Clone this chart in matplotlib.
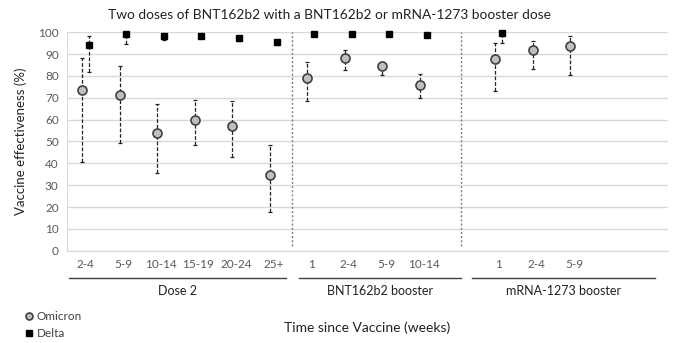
import matplotlib.pyplot as plt
import matplotlib.transforms as mtransforms
from matplotlib.lines import Line2D
import numpy as np

plt.rcParams['font.family'] = ['Lato', 'DejaVu Sans']

title = "Two doses of BNT162b2 with a BNT162b2 or mRNA-1273 booster dose"
group_names = ["Dose 2", "BNT162b2 booster", "mRNA-1273 booster"]
group_cats = [["2-4", "5-9", "10-14", "15-19", "20-24", "25+"],
              ["1", "2-4", "5-9", "10-14"],
              ["1", "2-4", "5-9"]]
group_gap = [0, 0, 1]   # empty slots before each group

omicron = [73.6, 71.3, 53.9, 59.8, 57.1, 34.5, 79.1, 88.1, 84.4, 75.9, 87.9, 92.0, 93.7]
omicron_lo = [40.5, 49.3, 35.4, 48.4, 42.8, 17.9, 68.4, 82.7, 80.6, 69.9, 73.3, 83.1, 80.3]
omicron_hi = [88.4, 84.4, 67.3, 69.0, 68.4, 48.3, 86.6, 92.0, 86.1, 80.9, 95.0, 96.2, 98.3]

delta = [94.2, 99.2, 98.4, 98.5, 97.2, 95.4, 99.2, 99.4, 99.0, 98.8, 99.5, np.nan, np.nan]
delta_lo = [81.6, 94.6, 96.5, 97.6, 95.9, 94.2, 98.9, 99.2, 98.7, 98.4, 95.0, np.nan, np.nan]
delta_hi = [98.3, 99.5, 99.1, 99.1, 98.2, 96.2, 99.4, 99.5, 99.2, 99.1, 99.8, np.nan, np.nan]

# slot positions for each category
xpos, labels, spans = [], [], []
slot = 0
for gap, cats in zip(group_gap, group_cats):
    slot += gap
    first = slot
    for c in cats:
        xpos.append(slot)
        labels.append(c)
        slot += 1
    spans.append((first, slot - 1))
xpos = np.array(xpos, dtype=float)

fig = plt.figure(figsize=(6.8, 3.43), dpi=100)
ax = fig.add_axes([0.0985, 0.269, 0.8835, 0.637])

ax.set_ylim(0, 100)
ax.set_xlim(-0.5, 15.5)
ax.set_yticks(range(0, 101, 10))
ax.yaxis.grid(True, color='#d9d9d9', lw=1)
ax.set_axisbelow(True)
for s in ['top', 'right']:
    ax.spines[s].set_visible(False)
ax.spines['bottom'].set_color('#d9d9d9')
ax.spines['left'].set_color('#d9d9d9')
ax.tick_params(axis='both', length=0, labelsize=8.5, colors='#595959', pad=6)
ax.set_xticks(xpos)
ax.set_xticklabels(labels)
ax.set_ylabel("Vaccine effectiveness (%)", fontsize=9.5, color='#222222', labelpad=8)

om = np.array(omicron)
ox = xpos - 0.1
eb = ax.errorbar(ox, om, yerr=[om - np.array(omicron_lo), np.array(omicron_hi) - om],
                 fmt='none', ecolor='#222222', elinewidth=0.9, capsize=1.6, capthick=0.9, zorder=3)
eb[2][0].set_linestyle((0, (3, 1.5)))
ax.plot(ox, om, 'o', ms=6.5, mfc='#bfbfbf', mec='#404040', mew=1.2, zorder=4, clip_on=False)

dl = np.array(delta)
dx = xpos + 0.08
eb = ax.errorbar(dx, dl, yerr=[dl - np.array(delta_lo), np.array(delta_hi) - dl],
                 fmt='none', ecolor='#222222', elinewidth=0.9, capsize=1.6, capthick=0.9, zorder=3)
eb[2][0].set_linestyle((0, (3, 1.5)))
ax.plot(dx, dl, 's', ms=4.8, color='black', zorder=4, clip_on=False)

# dividers between groups
for (a0, a1), (b0, b1) in zip(spans[:-1], spans[1:]):
    ax.axvline((a1 + b0) / 2, ymin=0.02, ymax=1, color='#7f7f7f', ls=(0, (1.5, 1.5)), lw=1)

# group underlines and names
trans = mtransforms.blended_transform_factory(ax.transData, ax.transAxes)
line_ext = [(-0.45, 0.33), (-0.32, 1.0), (-0.71, 2.15)]
for name, (a, b), (e0, e1) in zip(group_names, spans, line_ext):
    ax.add_line(Line2D([a + e0, b + e1], [-0.124, -0.124], transform=trans,
                       color='#404040', lw=1, clip_on=False))
    ax.text((a + e0 + b + e1) / 2, -0.183, name, transform=trans, ha='center', va='center',
            fontsize=9, color='#222222')

ax.text(0.5, -0.354, "Time since Vaccine (weeks)", transform=ax.transAxes,
        ha='center', va='center', fontsize=10, color='#222222')
fig.suptitle(title, x=0.485, y=0.975, fontsize=9.9, color='#222222')

handles = [Line2D([], [], ls='none', marker='o', ms=5, mfc='#bfbfbf', mec='#404040', mew=1.2),
           Line2D([], [], ls='none', marker='s', ms=4.5, color='black')]
fig.legend(handles, ["Omicron", "Delta"], loc='lower left', bbox_to_anchor=(0.022, -0.02),
           frameon=False, fontsize=8.5, handlelength=0.6, handletextpad=0.35,
           labelspacing=0.55, labelcolor='#404040')

fig.savefig("out.png", dpi=100)
